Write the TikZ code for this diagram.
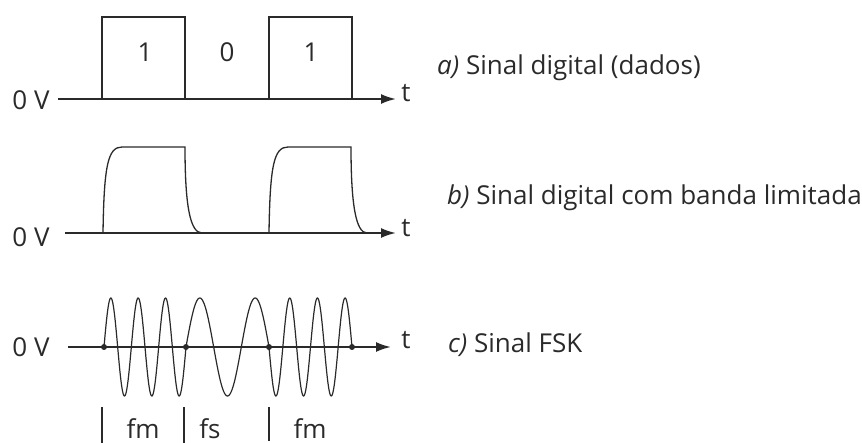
\documentclass[tikz,border=0pt]{standalone}
\usepackage{fontspec}
\setmainfont{Open Sans}
\usetikzlibrary{arrows.meta}
\definecolor{ink}{HTML}{2A2A2A}
\begin{document}
\begin{tikzpicture}[x=1pt,y=-1pt,
  axis/.style={line width=2pt, draw=ink, -{Latex[length=15pt,width=10pt]}},
  sig/.style={line width=1.3pt, draw=ink},
  wave/.style={line width=1.2pt, draw=ink},
  lbl/.style={font=\fontsize{26}{30}\selectfont, text=ink, inner sep=0pt},
  capt/.style={font=\fontsize{26}{30}\selectfont, text=ink, inner sep=0pt, anchor=base west},
  dot/.style={circle, fill=ink, inner sep=0pt, minimum size=6pt},
  bar/.style={line width=1.3pt, draw=ink}
  ]
\useasboundingbox (0,0) rectangle (862,443);
% ---------- panel a
\coordinate (a0) at (58,99);
\coordinate (a1) at (396,99);
\draw[axis] (a0) -- (a1);
\node[lbl] (va) at (31,100) {0 V};
\node[lbl] (ta) at (406,93) {t};
\draw[sig] (102,99) -- (102,17) -- (185,17) -- (185,99);
\draw[sig] (269,99) -- (269,17) -- (352,17) -- (352,99);
\node[lbl] (b1) at (145,52) {1};
\node[lbl] (b0) at (227,52) {0};
\node[lbl] (b2) at (311,52) {1};
\node[capt] (ca) at (437,75) {\textit{a)} Sinal digital (dados)};
% ---------- panel b
\coordinate (b0s) at (65,233);
\coordinate (b1s) at (396,233);
\draw[axis] (b0s) -- (b1s);
\node[lbl] (vb) at (31,237) {0 V};
\node[lbl] (tb) at (406,228) {t};
\draw[sig] (103,233) .. controls (104,165) and (108,147) .. (122,147) -- (185,147)
  .. controls (185,205) and (190,233) .. (202,233);
\draw[sig] (269,233) .. controls (270,165) and (274,147) .. (288,147) -- (351,147)
  .. controls (351,205) and (356,233) .. (367,233);
\node[capt] (cb) at (447,205) {\textit{b)} Sinal digital com banda limitada};
% ---------- panel c
\coordinate (c0) at (68,347);
\coordinate (c1) at (391,347);
\draw[axis] (c0) -- (c1);
\node[lbl] (vc) at (31,347) {0 V};
\node[lbl] (tc) at (406,340) {t};
\draw[wave] plot[domain=104:186, samples=160, smooth] (\x, {347 - 49*sin(13.1707*(\x-104))});
\draw[wave] plot[domain=186:269, samples=120, smooth] (\x, {347 - 49*sin(6.5060*(\x-186))});
\draw[wave] plot[domain=269:352, samples=160, smooth] (\x, {347 + 49*sin(13.0120*(\x-269))});
\node[dot] (d1) at (104,347) {};
\node[dot] (d2) at (186,347) {};
\node[dot] (d3) at (269,347) {};
\node[dot] (d4) at (352,347) {};
\node[capt] (cc) at (448,353) {\textit{c)} Sinal FSK};
\draw[bar] (102,407) -- (102,443);
\draw[bar] (184,407) -- (184,443);
\draw[bar] (269,407) -- (269,441);
\node[lbl, anchor=base] (f1) at (143,438) {fm};
\node[lbl, anchor=base] (f2) at (210,438) {fs};
\node[lbl, anchor=base] (f3) at (310,438) {fm};
\end{tikzpicture}
\end{document}
